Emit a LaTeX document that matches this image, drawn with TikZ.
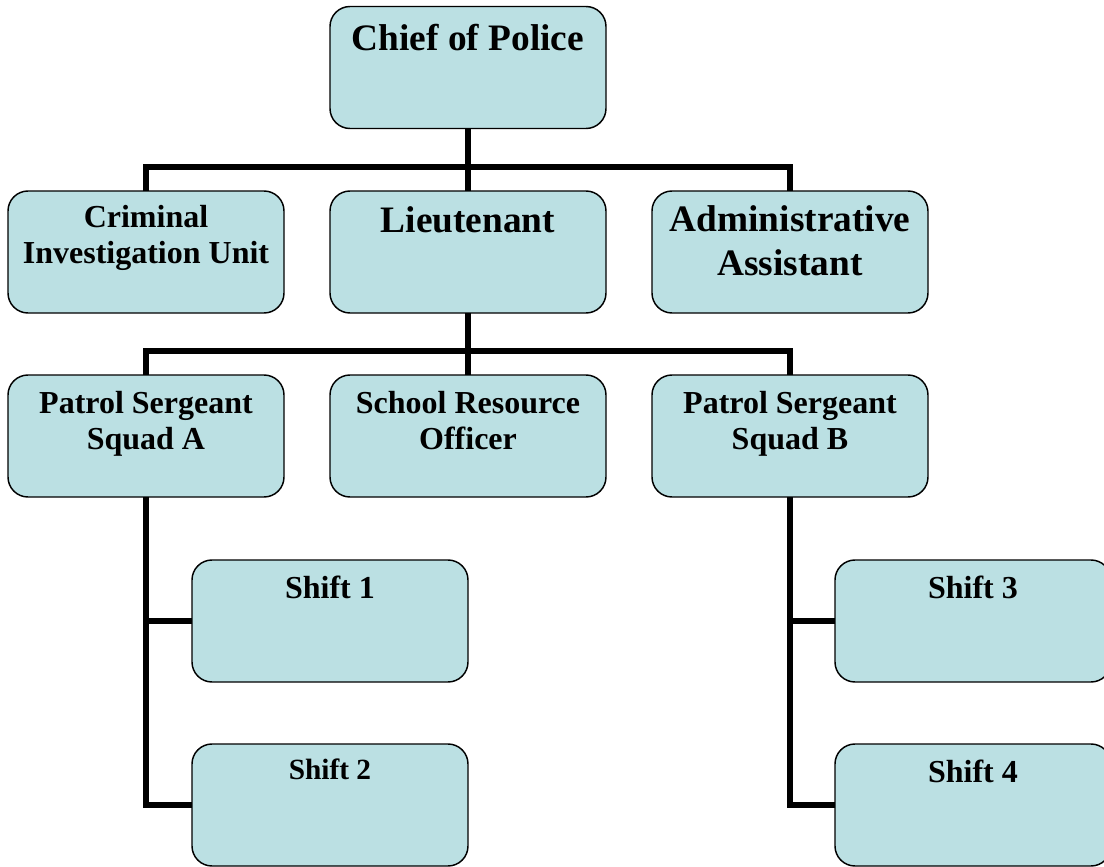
\documentclass[tikz,border=0pt]{standalone}
\usepackage{fontspec}
\setmainfont{Liberation Serif}
\usepackage{xcolor}
\usepackage{tikz}
\usetikzlibrary{positioning}

\definecolor{boxblue}{RGB}{187,224,227}
\newcommand{\bigtxt}{\fontsize{28}{33}\selectfont\bfseries}
\newcommand{\midtxt}{\fontsize{24}{27.5}\selectfont\bfseries}
\newcommand{\smalltxt}{\fontsize{22}{26}\selectfont\bfseries}

\begin{document}
\begin{tikzpicture}[x=0.75pt, y=-0.75pt,
                    unit/.style = { draw, black, fill = boxblue, rounded corners = 15pt, line width = 1.1pt, minimum width = 207pt, minimum height = 91.5pt, inner sep=0pt, outer sep=0pt },
                    title/.style = { anchor = north, yshift = -12pt, inner sep=0pt, outer sep=0pt, align = center, text = black, font = \midtxt },
                    conn/.style = { black, line width = 4.2pt },
                   ]
                    \useasboundingbox (0,0) rectangle (1104,867);

                    % boxes
                    \node[unit, label={[title, font=\bigtxt, yshift=-1.5pt]north:Chief of Police}] (chief) at (468,67.5) {};
                    \node[unit, label={[title, yshift=1.5pt]north:Criminal\\Investigation Unit}] (ciu) at (146,252) {};
                    \node[unit, label={[title, font=\bigtxt]north:Lieutenant}] (lt) at (468,252) {};
                    \node[unit, label={[title, font=\bigtxt, yshift=0.75pt]north:Administrative\\Assistant}] (admin) at (790,252) {};
                    \node[unit, label={[title]north:Patrol Sergeant\\Squad A}] (sgtA) at (146,436) {};
                    \node[unit, label={[title]north:School Resource\\Officer}] (sro) at (468,436) {};
                    \node[unit, label={[title]north:Patrol Sergeant\\Squad B}] (sgtB) at (790,436) {};
                    \node[unit, label={[title]north:Shift 1}] (shift1) at (330,621) {};
                    \node[unit, label={[title, font=\smalltxt, yshift=0.75pt]north:Shift 2}] (shift2) at (330,805) {};
                    \node[unit, label={[title]north:Shift 3}] (shift3) at (973,621) {};
                    \node[unit, label={[title]north:Shift 4}] (shift4) at (973,805) {};

                    % connectors
                    \coordinate (topbus) at (468,167);
                    \coordinate (midbus) at (468,351);
                    \draw[conn] (chief.south) -- (lt.north);
                    \draw[conn] (ciu.north) |- (topbus) -| (admin.north);
                    \draw[conn] (lt.south) -- (sro.north);
                    \draw[conn] (sgtA.north) |- (midbus) -| (sgtB.north);
                    \draw[conn] (sgtA.south) |- (shift2.west);
                    \draw[conn] (shift1.west) -- (shift1.west -| sgtA.south);
                    \draw[conn] (sgtB.south) |- (shift4.west);
                    \draw[conn] (shift3.west) -- (shift3.west -| sgtB.south);
\end{tikzpicture}
\end{document}
